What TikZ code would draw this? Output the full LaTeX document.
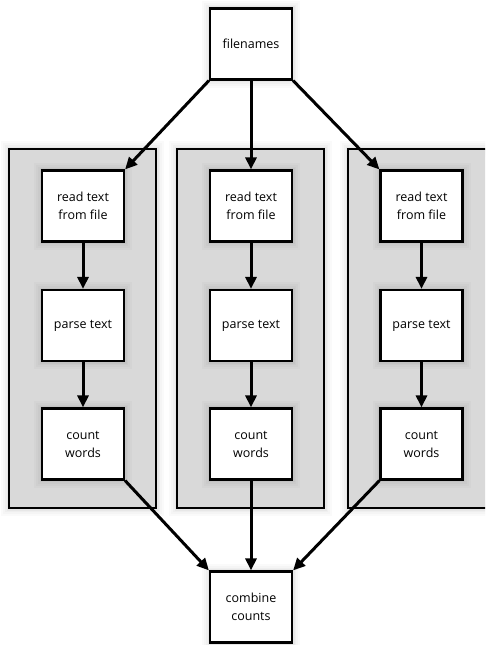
\documentclass[tikz,border=0pt]{standalone}
\usepackage{fontspec}
\setmainfont{Open Sans}
\usetikzlibrary{arrows.meta}
\tikzset{
  halo/.style={preaction={draw=black,opacity=0.02,line width=16pt},
               preaction={draw=black,opacity=0.02,line width=12pt},
               preaction={draw=black,opacity=0.025,line width=8pt},
               preaction={draw=black,opacity=0.03,line width=5pt}},
  panel/.style={rectangle,draw=black,line width=2.2pt,fill=black!15,halo,
                minimum width=147pt,minimum height=359pt,inner sep=0pt},
  stepbox/.style={rectangle,draw=black,line width=2.2pt,fill=white,halo,
                  minimum width=82pt,minimum height=71pt,inner sep=0pt,
                  align=center,font=\fontsize{12.5}{18}\selectfont},
  flow/.style={line width=3pt,-{Triangle[length=12pt,width=11pt]}}
}
\begin{document}
\begin{tikzpicture}[x=1pt,y=-1pt]
\useasboundingbox (0,0) rectangle (485,645);
\fill[white] (0,0) rectangle (485,645);
\begin{scope}
\clip (0,0) rectangle (485,645);
\node[panel] (p1) at (82.5,328.5) {};
\node[panel] (p2) at (250.5,328.5) {};
\node[panel] (p3) at (421.5,328.5) {};
\end{scope}

\node[stepbox] (fn) at (251,44) {filenames};
\foreach \i/\x in {1/83,2/251,3/421.5}{
  \node[stepbox] (r\i) at (\x,206) {read text\\from file};
  \node[stepbox] (t\i) at (\x,325.5) {parse text};
  \node[stepbox] (c\i) at (\x,444) {count\\words};
}
\node[stepbox] (cc) at (251,607) {combine\\counts};

\draw[flow] (fn.south west) -- (r1.north east);
\draw[flow] (fn.south) -- (r2.north);
\draw[flow] (fn.south east) -- (r3.north west);
\foreach \i in {1,2,3}{
  \draw[flow] (r\i) -- (t\i);
  \draw[flow] (t\i) -- (c\i);
}
\draw[flow] (c1.south east) -- (cc.north west);
\draw[flow] (c2.south) -- (cc.north);
\draw[flow] (c3.south west) -- (cc.north east);
\end{tikzpicture}
\end{document}
